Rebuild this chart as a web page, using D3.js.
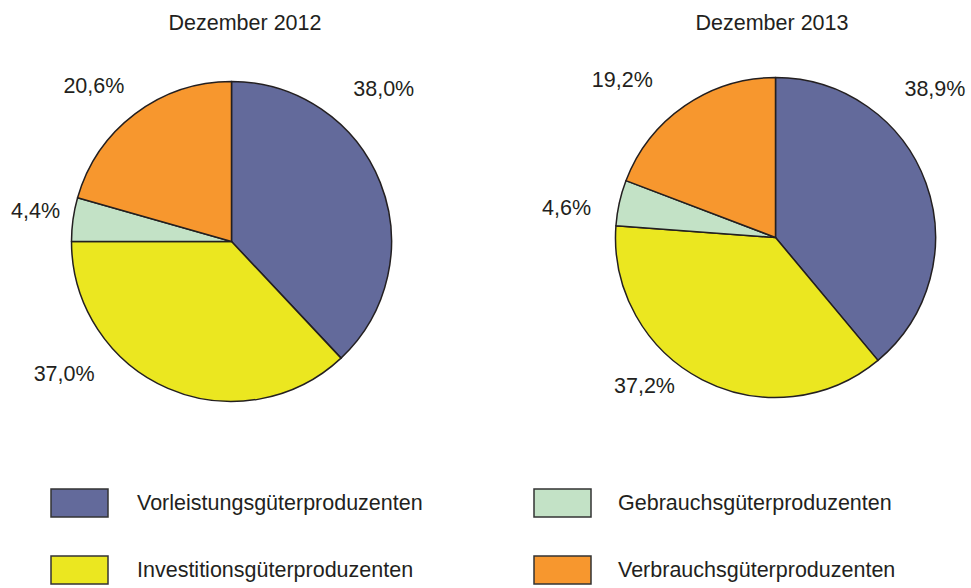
<!DOCTYPE html>
<html>
<head>
<meta charset="utf-8">
<script src="https://cdn.jsdelivr.net/npm/d3@7"></script>
<style>
    body { margin: 0; background: #fff; }
    text { font-family: "Liberation Sans", Arial, sans-serif; fill: #231f20; }
</style>
</head>
<body>
<div id="main"></div>
<script>
// data
const categories = [
    "Vorleistungsgüterproduzenten",
    "Investitionsgüterproduzenten",
    "Gebrauchsgüterproduzenten",
    "Verbrauchsgüterproduzenten"
];
const titles = ["Dezember 2012", "Dezember 2013"];
const values2012 = [38.0, 37.0, 4.4, 20.6];
const values2013 = [38.9, 37.2, 4.6, 19.2];
const colors = ["#636a9b", "#ebe720", "#c3e2c6", "#f7972e"];

// hand-tuned label nudges (like the original layout)
const nudge2012 = [[-43, -75], [-84, -60], [12, -2], [-11, 12]];
const nudge2013 = [[-38, -77], [-35, -38], [-4, 16], [-34, 15]];

onload = () => {
    const d3 = window.d3;
    const width = 971, height = 588;
    const fontSize = 21.5;
    let svg = d3.select("#main").append("svg")
        .attr("width", width).attr("height", height);

    const radius = 160;
    const labelRadius = 210;

    let pie = d3.pie().sort(null).value((d) => d);
    let arc = d3.arc().innerRadius(0).outerRadius(radius);
    let labelArc = d3.arc().innerRadius(labelRadius).outerRadius(labelRadius);
    let fmt = (v) => d3.format(".1f")(v).replace(".", ",") + "%";

    let charts = [
        { title: titles[0], values: values2012, cx: 231.5, cy: 241.5, titleX: 245, nudge: nudge2012 },
        { title: titles[1], values: values2013, cx: 775.5, cy: 237.5, titleX: 772, nudge: nudge2013 }
    ];

    charts.forEach((c) => {
        svg.append("text")
            .attr("x", c.titleX)
            .attr("y", 29.5)
            .attr("text-anchor", "middle")
            .style("font-size", fontSize + "px")
            .text(c.title);

        let g = svg.append("g").attr("transform", `translate(${c.cx}, ${c.cy})`);
        let arcs = pie(c.values);

        g.selectAll("path")
            .data(arcs)
            .enter()
            .append("path")
            .attr("d", arc)
            .attr("fill", (d, i) => colors[i])
            .attr("stroke", "#231f20")
            .attr("stroke-width", 1.5)
            .attr("stroke-linejoin", "round");

        g.selectAll(".lbl")
            .data(arcs)
            .enter()
            .append("text")
            .classed("lbl", true)
            .attr("x", (d, i) => labelArc.centroid(d)[0] + c.nudge[i][0])
            .attr("y", (d, i) => labelArc.centroid(d)[1] + c.nudge[i][1])
            .attr("text-anchor", "middle")
            .attr("dominant-baseline", "central")
            .style("font-size", fontSize + "px")
            .text((d) => fmt(d.data));
    });

    // legend: 2 columns x 2 rows
    const legendOrder = [0, 2, 1, 3];
    let colX = d3.scaleOrdinal().domain([0, 1]).range([51, 534]);
    let rowY = d3.scaleOrdinal().domain([0, 1]).range([489, 556]);

    let legend = svg.append("g").classed("legend", true);
    let items = legend.selectAll("g")
        .data(legendOrder)
        .enter()
        .append("g")
        .attr("transform", (d, i) => `translate(${colX(i % 2)}, ${rowY(Math.floor(i / 2))})`);

    items.append("rect")
        .attr("width", 57)
        .attr("height", 28)
        .attr("fill", (d) => colors[d])
        .attr("stroke", "#333")
        .attr("stroke-width", 1.5);

    items.append("text")
        .attr("x", (d, i) => (i % 2 === 0 ? 86 : 84))
        .attr("y", 14)
        .attr("dominant-baseline", "central")
        .style("font-size", fontSize + "px")
        .text((d) => categories[d]);
};
</script>
</body>
</html>
